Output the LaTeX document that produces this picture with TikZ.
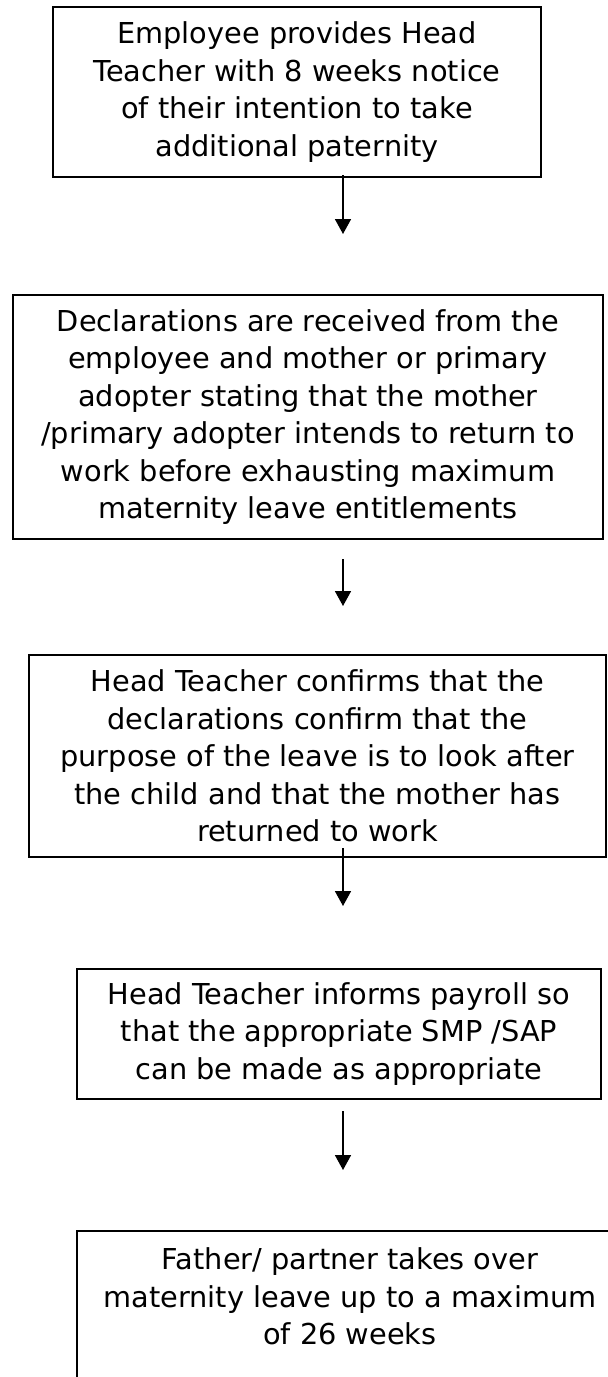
\documentclass[tikz,border=0pt]{standalone}
\usepackage{fontspec}
\setmainfont{DejaVu Sans}
\usetikzlibrary{arrows.meta}

\tikzset{
  stage/.style={draw, line width=0.75pt, align=center, inner sep=0pt,
    font=\fontsize{14.4pt}{18.7pt}\selectfont},
  flow/.style={line width=0.85pt, -{Triangle[width=8pt,length=7.5pt]}}
}

\begin{document}
\begin{tikzpicture}[x=0.5pt,y=-0.5pt]
    \useasboundingbox (0,0) rectangle (608,1377);
    \node[stage, minimum width=244pt, minimum height=85pt] (notice) at (297,92)
      {Employee provides Head\\Teacher with 8 weeks notice\\of their intention to take\\additional paternity};
    \node[stage, minimum width=295pt, minimum height=122pt] (declare) at (308,417)
      {Declarations are received from the\\employee and mother or primary\\adopter stating that the mother\\/primary adopter intends to return to\\work before exhausting maximum\\maternity leave entitlements};
    \node[stage, minimum width=288.5pt, minimum height=101pt] (confirm) at (317.5,756)
      {Head Teacher confirms that the\\declarations confirm that the\\purpose of the leave is to look after\\the child and that the mother has\\returned to work};
    \node[stage, minimum width=262pt, minimum height=65pt] (payroll) at (339,1034)
      {Head Teacher informs payroll so\\that the appropriate SMP /SAP\\can be made as appropriate};
    \node[stage, minimum width=273pt, minimum height=84pt] (takeover) at (350,1315)
      {Father/ partner takes over\\maternity leave up to a maximum\\of 26 weeks\\\mbox{}};
    \coordinate (a1) at (343,175);  \coordinate (e1) at (343,234);
    \coordinate (a2) at (343,559);  \coordinate (e2) at (343,606);
    \coordinate (a3) at (343,848);  \coordinate (e3) at (343,906);
    \coordinate (a4) at (343,1111); \coordinate (e4) at (343,1170);
    \draw[flow] (a1) -- (e1);
    \draw[flow] (a2) -- (e2);
    \draw[flow] (a3) -- (e3);
    \draw[flow] (a4) -- (e4);
  \end{tikzpicture}
\end{document}
